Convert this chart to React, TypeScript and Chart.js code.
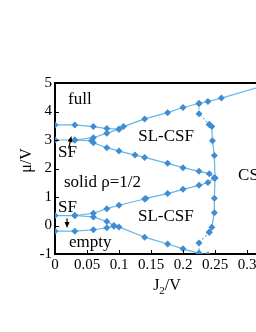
import React, { useEffect, useRef } from "react";
import { Chart, registerables } from "chart.js";

Chart.register(...registerables);

// ---- data (J2/V, mu/V) ----
const upperSFTopJ = [0, 0.031, 0.06, 0.081, 0.1];
const upperSFTopMu = [3.53, 3.53, 3.47, 3.4, 3.38];

const upperRiseJ = [0, 0.031, 0.06, 0.081, 0.1, 0.107, 0.14, 0.176, 0.2, 0.225, 0.239, 0.26, 0.33];
const upperRiseMu = [3.0, 3.0, 3.08, 3.24, 3.38, 3.47, 3.74, 3.96, 4.14, 4.28, 4.35, 4.47, 4.93];

const upperFallJ = [0.031, 0.057, 0.06, 0.081, 0.1, 0.125, 0.14, 0.176, 0.2, 0.225, 0.241, 0.249];
const upperFallMu = [3.0, 2.97, 2.9, 2.73, 2.61, 2.47, 2.39, 2.18, 2.03, 1.9, 1.82, 1.67];

const lowerRiseJ = [0, 0.031, 0.06, 0.081, 0.1, 0.14, 0.142, 0.176, 0.2, 0.225, 0.239, 0.249];
const lowerRiseMu = [0.35, 0.35, 0.43, 0.59, 0.71, 0.93, 0.95, 1.12, 1.27, 1.41, 1.51, 1.67];

const lowerFallJ = [0.031, 0.06, 0.081, 0.092, 0.1, 0.14, 0.176, 0.2, 0.225, 0.239];
const lowerFallMu = [0.35, 0.3, 0.14, 0.0, -0.05, -0.41, -0.65, -0.82, -0.98, -1.03];

const lowerSFBotJ = [0, 0.031, 0.06, 0.081, 0.092];
const lowerSFBotMu = [-0.2, -0.2, -0.15, -0.08, -0.03];

const csfTopDashJ = [0.225, 0.225, 0.241];
const csfTopDashMu = [4.28, 3.92, 3.54];
const csfTopJ = [0.241, 0.245, 0.246, 0.249, 0.25];
const csfTopMu = [3.54, 3.47, 2.97, 2.46, 1.67];

const csfBotJ = [0.25, 0.249, 0.249, 0.245, 0.241];
const csfBotMu = [1.67, 0.96, 0.45, -0.06, -0.24];
const csfBotDashJ = [0.241, 0.225, 0.225];
const csfBotDashMu = [-0.24, -0.61, -0.97];

const xTickValues = [0, 0.05, 0.1, 0.15, 0.2, 0.25, 0.3, 0.35];
const xTickLabels = ["0", "0.05", "0.1", "0.15", "0.2", "0.25", "0.3", "0.35"];
const yTickValues = [-1, 0, 1, 2, 3, 4, 5];
const yTickLabels = ["-1", "0", "1", "2", "3", "4", "5"];

const phaseLabels = [
  { text: "full", j: 0.0203, mu: 4.27 },
  { text: "SL-CSF", j: 0.13, mu: 2.95 },
  { text: "SF", j: 0.0047, mu: 2.4 },
  { text: "solid \u03c1=1/2", j: 0.014, mu: 1.36 },
  { text: "SF", j: 0.0047, mu: 0.475 },
  { text: "SL-CSF", j: 0.1297, mu: 0.16 },
  { text: "empty", j: 0.0219, mu: -0.74 },
  { text: "CSF", j: 0.286, mu: 1.59 },
];

const arrows = [
  { j0: 0.0214, mu0: 2.7, j1: 0.0255, mu1: 3.14 },
  { j0: 0.0188, mu0: 0.245, j1: 0.0188, mu1: -0.09 },
];

const SERIF = '"Liberation Serif", "Times New Roman", serif';
const LINE = "#62b6e6";
const MARK = "#3f8dd2";

const zip = (xs: number[], ys: number[]) => xs.map((x, i) => ({ x, y: ys[i] }));

const overlay = {
  id: "overlay",
  afterDraw(chart: any) {
    const { ctx, chartArea: ca, scales } = chart;
    const xs = scales.x;
    const ys = scales.y;
    ctx.save();
    // top frame line
    ctx.strokeStyle = "#000";
    ctx.lineWidth = 2;
    ctx.beginPath();
    ctx.moveTo(ca.left - 1, ca.top);
    ctx.lineTo(ca.right, ca.top);
    ctx.stroke();
    // inward ticks
    ctx.lineWidth = 1;
    ctx.beginPath();
    xTickValues.forEach((v) => {
      const px = Math.round(xs.getPixelForValue(v)) + 0.5;
      ctx.moveTo(px, ca.bottom);
      ctx.lineTo(px, ca.bottom - 4);
    });
    yTickValues.forEach((v) => {
      const py = Math.round(ys.getPixelForValue(v)) + 0.5;
      ctx.moveTo(ca.left, py);
      ctx.lineTo(ca.left + 4, py);
    });
    ctx.stroke();
    // phase labels
    ctx.fillStyle = "#000";
    ctx.font = `17px ${SERIF}`;
    ctx.textAlign = "left";
    ctx.textBaseline = "alphabetic";
    phaseLabels.forEach((l) => {
      ctx.fillText(l.text, xs.getPixelForValue(l.j), ys.getPixelForValue(l.mu));
    });
    // arrows
    ctx.strokeStyle = "#000";
    ctx.lineWidth = 1.2;
    arrows.forEach((a) => {
      const x0 = xs.getPixelForValue(a.j0);
      const y0 = ys.getPixelForValue(a.mu0);
      const x1 = xs.getPixelForValue(a.j1);
      const y1 = ys.getPixelForValue(a.mu1);
      const ang = Math.atan2(y1 - y0, x1 - x0);
      ctx.beginPath();
      ctx.moveTo(x0, y0);
      ctx.lineTo(x1 - 3 * Math.cos(ang), y1 - 3 * Math.sin(ang));
      ctx.stroke();
      ctx.beginPath();
      ctx.moveTo(x1, y1);
      ctx.lineTo(x1 - 6 * Math.cos(ang) + 2.5 * Math.sin(ang), y1 - 6 * Math.sin(ang) - 2.5 * Math.cos(ang));
      ctx.lineTo(x1 - 6 * Math.cos(ang) - 2.5 * Math.sin(ang), y1 - 6 * Math.sin(ang) + 2.5 * Math.cos(ang));
      ctx.closePath();
      ctx.fill();
    });
    // axis titles
    const midX = (ca.left + ca.right) / 2;
    ctx.font = `16px ${SERIF}`;
    const wJ = ctx.measureText("J").width;
    const wV = ctx.measureText("/V").width;
    ctx.font = `11px ${SERIF}`;
    const w2 = ctx.measureText("2").width;
    const total = wJ + w2 + wV;
    let tx = midX - total / 2;
    const ty = ca.bottom + 36;
    ctx.font = `16px ${SERIF}`;
    ctx.fillText("J", tx, ty);
    tx += wJ;
    ctx.font = `11px ${SERIF}`;
    ctx.fillText("2", tx, ty + 4);
    tx += w2;
    ctx.font = `16px ${SERIF}`;
    ctx.fillText("/V", tx, ty);

    ctx.translate(ca.left - 24, (ca.top + ca.bottom) / 2 - 8);
    ctx.rotate(-Math.PI / 2);
    ctx.textAlign = "center";
    ctx.fillText("\u03bc/V", 0, 0);
    ctx.restore();
  },
};

function lineSet(xs: number[], ys: number[], dashed = false) {
  return {
    data: zip(xs, ys),
    showLine: true,
    borderColor: LINE,
    borderWidth: 1.2,
    borderDash: dashed ? [2, 2] : [],
    pointStyle: "rectRot",
    pointRadius: 3.5,
    pointBackgroundColor: MARK,
    pointBorderColor: MARK,
    pointBorderWidth: 0,
    tension: 0,
  };
}

export default function App() {
  const ref = useRef<HTMLCanvasElement | null>(null);
  useEffect(() => {
    if (!ref.current) return;
    const chart = new Chart(ref.current, {
      type: "scatter",
      data: {
        datasets: [
          lineSet(upperSFTopJ, upperSFTopMu),
          lineSet(upperRiseJ, upperRiseMu),
          lineSet(upperFallJ, upperFallMu),
          lineSet(lowerRiseJ, lowerRiseMu),
          lineSet(lowerFallJ, lowerFallMu),
          lineSet(lowerSFBotJ, lowerSFBotMu),
          lineSet(csfTopDashJ, csfTopDashMu, true),
          lineSet(csfTopJ, csfTopMu),
          lineSet(csfBotJ, csfBotMu),
          lineSet(csfBotDashJ, csfBotDashMu, true),
        ] as any,
      },
      options: {
        animation: false,
        responsive: false,
        devicePixelRatio: 1,
        layout: { padding: { top: 83, left: 0, right: 21, bottom: 0 } },
        plugins: { legend: { display: false }, tooltip: { enabled: false } },
        scales: {
          x: {
            type: "linear",
            min: 0,
            max: 0.35,
            afterFit: (s: any) => {
              s.height = 78;
            },
            afterBuildTicks: (s: any) => {
              s.ticks = xTickValues.map((v) => ({ value: v }));
            },
            ticks: {
              callback: (_v: any, i: number) => xTickLabels[i],
              font: { family: SERIF, size: 15 },
              color: "#000",
              padding: 2,
              maxRotation: 0,
              autoSkip: false,
            },
            grid: { display: false, drawTicks: false },
            border: { display: true, color: "#000", width: 2 },
          },
          y: {
            type: "linear",
            min: -1,
            max: 5,
            afterFit: (s: any) => {
              s.width = 55;
            },
            afterBuildTicks: (s: any) => {
              s.ticks = yTickValues.map((v) => ({ value: v }));
            },
            ticks: {
              callback: (_v: any, i: number) => yTickLabels[i],
              font: { family: SERIF, size: 15 },
              color: "#000",
              padding: 3,
              autoSkip: false,
            },
            grid: { display: false, drawTicks: false },
            border: { display: true, color: "#000", width: 2 },
          },
        },
      } as any,
      plugins: [overlay],
    });
    return () => chart.destroy();
  }, []);
  return (
    <div
      style={{
        position: "fixed",
        left: 0,
        top: 0,
        width: 256,
        height: 332,
        overflow: "hidden",
        background: "#fff",
      }}
    >
      <canvas ref={ref} width={300} height={332} style={{ display: "block", width: 300, height: 332 }} />
    </div>
  );
}
